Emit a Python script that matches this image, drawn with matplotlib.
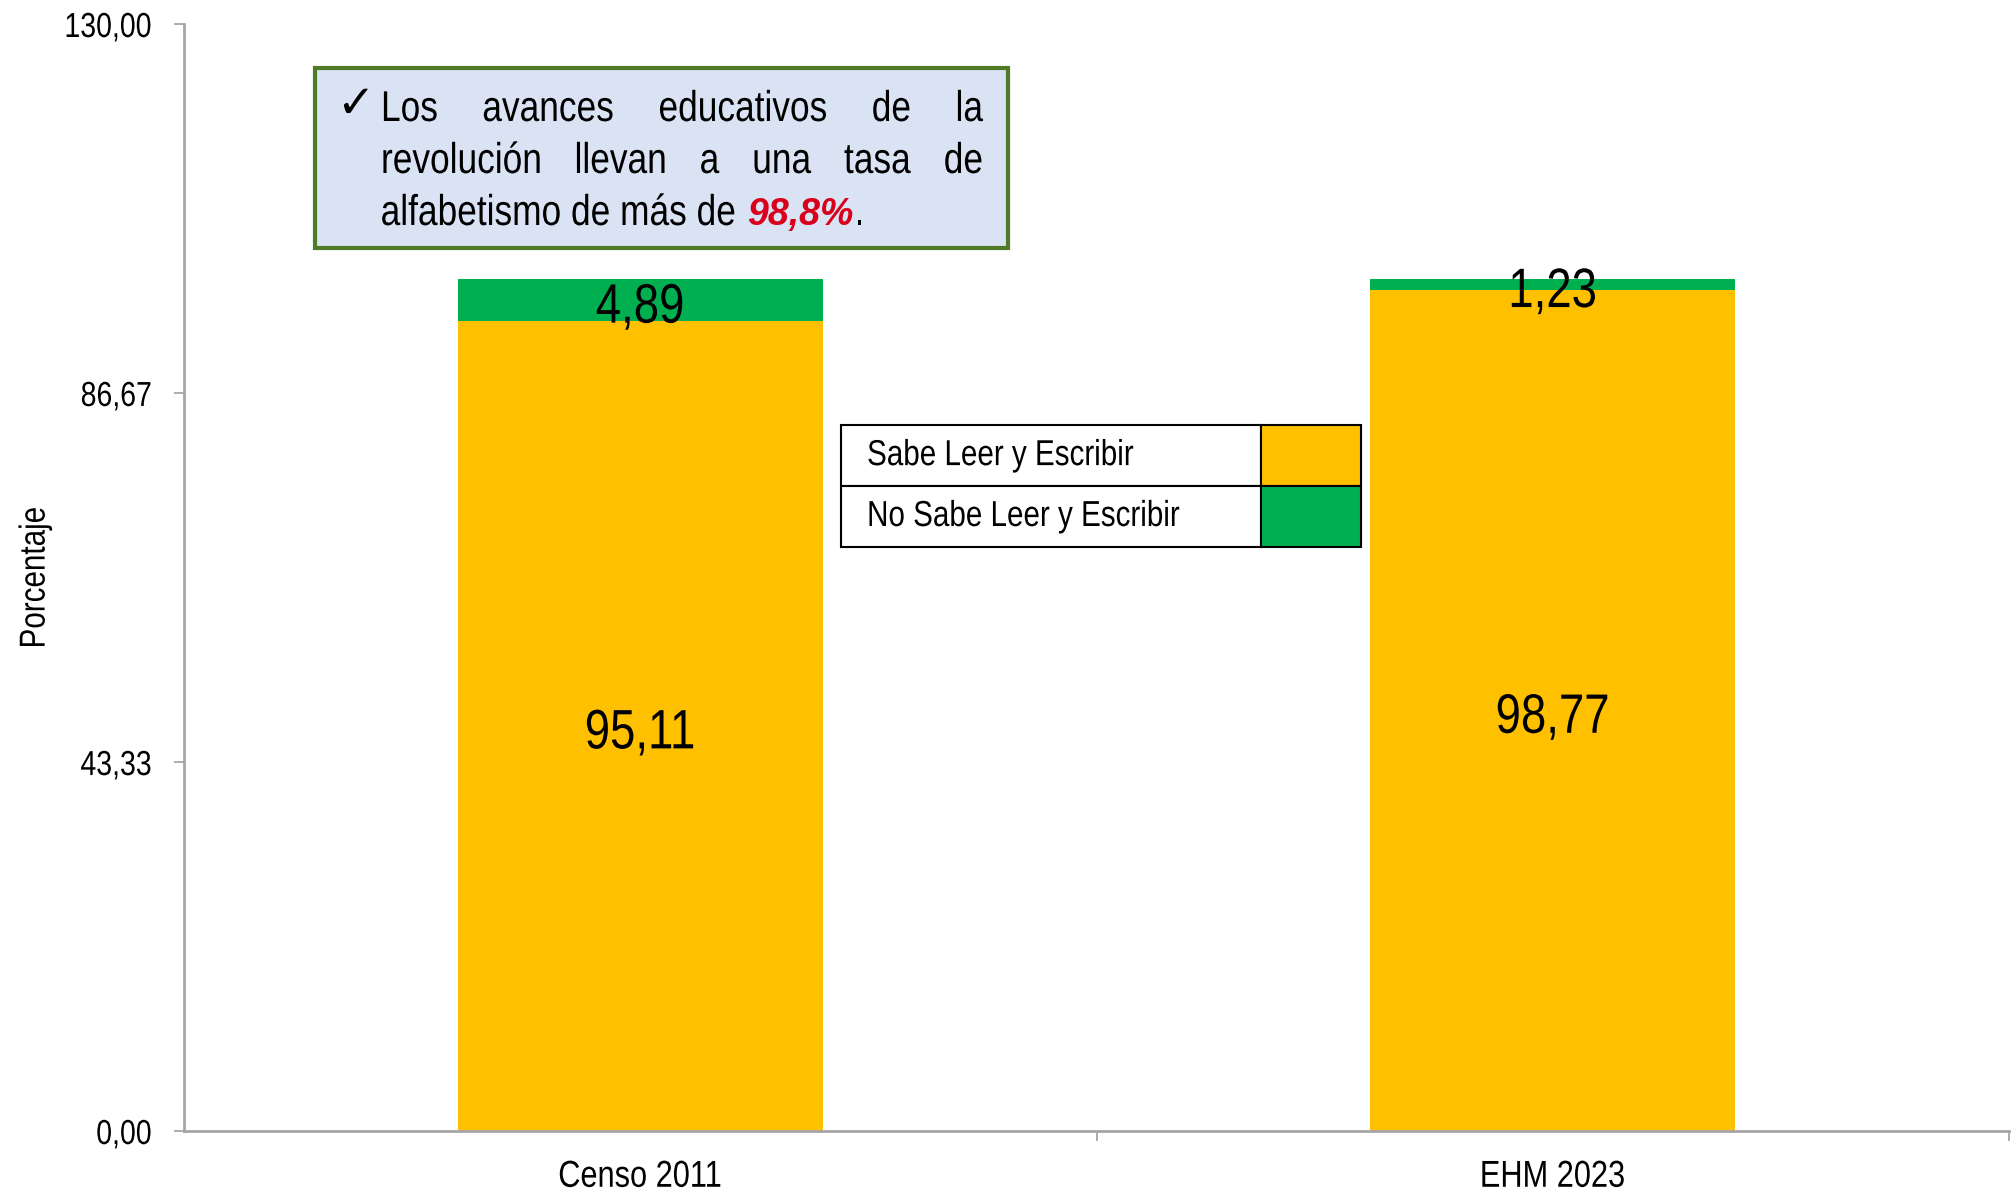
import matplotlib
matplotlib.use("Agg")
import matplotlib.pyplot as plt
from matplotlib.patches import Rectangle
from matplotlib.patheffects import AbstractPathEffect
from matplotlib.transforms import Affine2D

# data
categorias = ['Censo 2011', 'EHM 2023']
sabe = [95.11, 98.77]
no_sabe = [4.89, 1.23]
series = ['Sabe Leer y Escribir', 'No Sabe Leer y Escribir']
yticks = [0.00, 43.33, 86.67, 130.00]
nota_lineas = [['Los', 'avances', 'educativos', 'de', 'la'],
               ['revolución', 'llevan', 'a', 'una', 'tasa', 'de']]
nota_final = 'alfabetismo de más de'
nota_valor = '98,8%'

amarillo = '#FFC000'
verde = '#00B050'
SX = 0.82  # letra estrecha (tipo Arial Narrow)


class Estrecho(AbstractPathEffect):
    """comprime el texto en horizontal alrededor de un ancla"""
    def __init__(self, ancla='center', sx=SX):
        super().__init__()
        self.ancla = ancla
        self.sx = sx

    def draw_path(self, renderer, gc, tpath, affine, rgbFace=None):
        v = tpath.vertices
        if len(v) == 0:
            return
        if self.ancla == 'left':
            c = 0.0
        elif self.ancla == 'right':
            c = v[:, 0].max()
        else:
            c = (v[:, 0].min() + v[:, 0].max()) / 2
        t = Affine2D().translate(-c, 0).scale(self.sx, 1).translate(c, 0) + affine
        renderer.draw_path(gc, tpath, t, rgbFace)


plt.rcParams['font.family'] = ['Liberation Sans', 'DejaVu Sans']

W, H = 2013, 1193
fig = plt.figure(figsize=(W / 100, H / 100), dpi=100)
ax = fig.add_axes([184 / W, 1 - 1131 / H, 1825 / W, 1107 / H])

x = [0, 1]
b1 = ax.bar(x, sabe, width=0.4, color=amarillo, label=series[0])
b2 = ax.bar(x, no_sabe, width=0.4, bottom=sabe, color=verde, label=series[1])
fmt = lambda v: f'{v:.2f}'.replace('.', ',')
etiquetas = ax.bar_label(b1, labels=[fmt(v) for v in sabe], label_type='center', fontsize=40, color='black')
etiquetas += ax.bar_label(b2, labels=[fmt(v) for v in no_sabe], label_type='center', fontsize=40, color='black')
for e in etiquetas:
    e.xyann = (0, -6)
    e.set_path_effects([Estrecho('center')])

ax.set_xlim(-0.5, 1.5)
ax.set_ylim(0, 130)
ax.set_yticks(yticks)
ax.set_yticklabels([fmt(v) for v in yticks], fontsize=25)
ax.set_xticks(x)
ax.set_xticklabels(categorias, fontsize=27)
ax.set_xticks([0.5, 1.5], minor=True)
ax.tick_params(axis='x', which='major', length=0, pad=20)
ax.tick_params(axis='x', which='minor', length=7, width=1.3, color='#A6A6A6')
ax.tick_params(axis='y', length=7, width=1.3, color='#A6A6A6', pad=16)
ax.set_ylabel('Porcentaje', fontsize=26)
ax.yaxis.set_label_coords(-0.072, 0.5)
ax.yaxis.label.set_path_effects([Estrecho('center')])
for s in ['top', 'right']:
    ax.spines[s].set_visible(False)
for s in ['left', 'bottom']:
    ax.spines[s].set_color('#A6A6A6')
    ax.spines[s].set_linewidth(2)
for t in ax.get_yticklabels():
    t.set_path_effects([Estrecho('right')])
for t in ax.get_xticklabels():
    t.set_path_effects([Estrecho('center')])

# leyenda tipo tabla
tabla = ax.table(cellText=[[series[0], ''], [series[1], '']],
                 cellColours=[['white', amarillo], ['white', verde]],
                 colWidths=[0.808, 0.192], cellLoc='left',
                 bbox=[0.360, 0.5276, 0.285, 0.110])
tabla.auto_set_font_size(False)
tabla.set_fontsize(26)
for (r, c), cell in tabla.get_celld().items():
    cell.set_edgecolor('black')
    cell.set_linewidth(1.5)
    cell.PAD = 0.062
    cell.get_text().set_path_effects([Estrecho('left')])

# recuadro de nota
ax.add_patch(Rectangle((0.0718, 0.7977), 0.3797, 0.1626, transform=ax.transAxes,
                       facecolor='#DAE3F3', edgecolor='#4F7A28', linewidth=3, zorder=5))
fs_nota = 31
fig.text(355 / W, 1 - 105 / H, '\u2713', fontsize=33, ha='center', va='center',
         family=['DejaVu Sans'], zorder=6)
renderer = fig.canvas.get_renderer()

# lineas justificadas
x0, x1 = 381, 983
ys = [110, 162]
for linea, yy in zip(nota_lineas, ys):
    txts = [fig.text(0, 1 - yy / H, w, fontsize=fs_nota, va='center', zorder=6,
                     path_effects=[Estrecho('left')]) for w in linea]
    anchos = [t.get_window_extent(renderer).width * SX for t in txts]
    gap = (x1 - x0 - sum(anchos)) / (len(linea) - 1)
    pos = x0
    for t, a in zip(txts, anchos):
        t.set_x(pos / W)
        pos += a + gap

# ultima linea, alineada a la izquierda
yb = 1 - 225 / H
t1 = fig.text(0, yb, nota_final, fontsize=fs_nota, va='baseline', ha='right', zorder=6,
              path_effects=[Estrecho('right')])
p = x0 + t1.get_window_extent(renderer).width * SX
t1.set_x(p / W)
p += 11
t2 = fig.text(p / W, yb, nota_valor, fontsize=27, va='baseline', color='#D9001B',
              fontweight='bold', fontstyle='italic', zorder=6)
p += t2.get_window_extent(renderer).width + 1
fig.text(p / W, yb, '.', fontsize=fs_nota, va='baseline', zorder=6,
         path_effects=[Estrecho('left')])

fig.savefig('out.png', dpi=100)
